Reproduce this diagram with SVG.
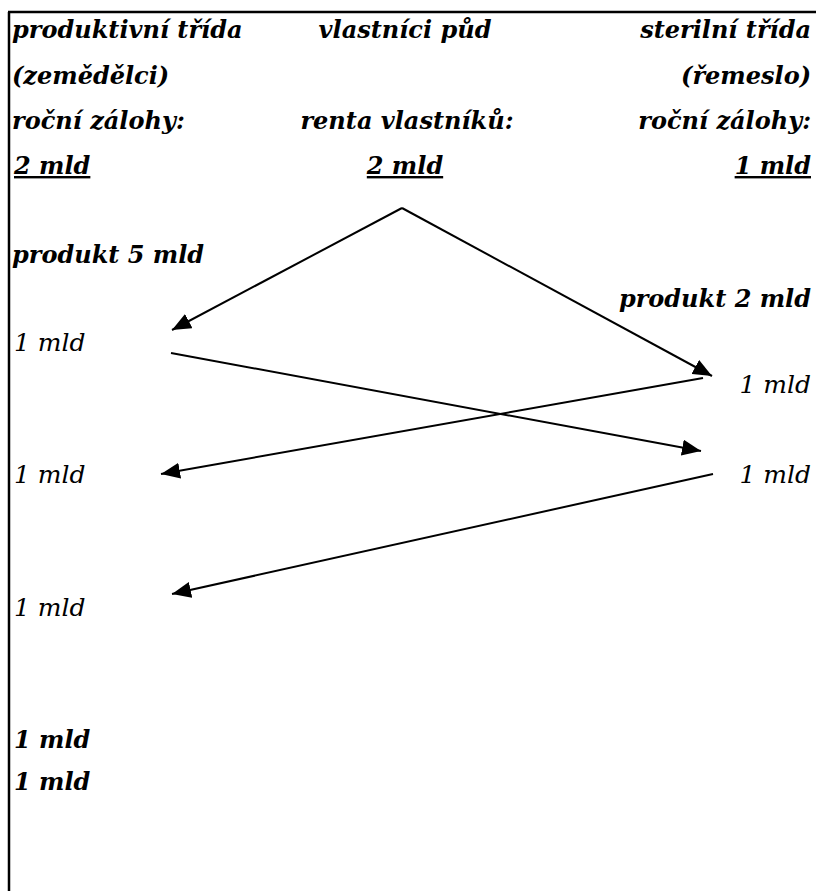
<svg xmlns="http://www.w3.org/2000/svg" width="816" height="891" viewBox="0 0 816 891">
<defs>
<marker id="ah" markerUnits="userSpaceOnUse" markerWidth="20" markerHeight="16" refX="19" refY="8" orient="auto">
<path d="M0,0 L19,8 L0,16 Z" fill="#000"/>
</marker>
</defs>
<rect width="816" height="891" fill="#fff"/>
<g id="frame" stroke="#000" stroke-width="2.5" fill="none">
<line x1="8" y1="12" x2="816" y2="12"/>
<line x1="9" y1="12" x2="9" y2="891"/>
</g>
<g id="productive" font-family="DejaVu Serif" font-size="24" font-style="italic" font-weight="bold">
<text x="12" y="38">produktivní třída</text>
<text x="12" y="84">(zemědělci)</text>
<text x="12" y="129">roční zálohy:</text>
<text x="14" y="174" text-decoration="underline">2 mld</text>
</g>
<g id="owners" font-family="DejaVu Serif" font-size="24" font-style="italic" font-weight="bold" text-anchor="middle">
<text x="405" y="38">vlastníci půd</text>
<text x="407" y="129">renta vlastníků:</text>
<text x="405" y="174" text-decoration="underline">2 mld</text>
</g>
<g id="sterile" font-family="DejaVu Serif" font-size="24" font-style="italic" font-weight="bold" text-anchor="end">
<text x="811" y="38">sterilní třída</text>
<text x="811" y="84">(řemeslo)</text>
<text x="811" y="129">roční zálohy:</text>
<text x="811" y="174" text-decoration="underline">1 mld</text>
</g>
<g id="product5" font-family="DejaVu Serif" font-size="24" font-style="italic" font-weight="bold">
<text x="12" y="263">produkt 5 mld</text>
</g>
<g id="product2" font-family="DejaVu Serif" font-size="24" font-style="italic" font-weight="bold" text-anchor="end">
<text x="811" y="307">produkt 2 mld</text>
</g>
<g id="left1"><text x="14" y="351" font-family="DejaVu Serif" font-size="25" font-style="italic">1 mld</text></g>
<g id="left2"><text x="14" y="483" font-family="DejaVu Serif" font-size="25" font-style="italic">1 mld</text></g>
<g id="left3"><text x="14" y="616" font-family="DejaVu Serif" font-size="25" font-style="italic">1 mld</text></g>
<g id="right1"><text x="811" y="393" font-family="DejaVu Serif" font-size="25" font-style="italic" text-anchor="end">1 mld</text></g>
<g id="right2"><text x="811" y="483" font-family="DejaVu Serif" font-size="25" font-style="italic" text-anchor="end">1 mld</text></g>
<g id="total1"><text x="14" y="748" font-family="DejaVu Serif" font-size="24" font-style="italic" font-weight="bold">1 mld</text></g>
<g id="total2"><text x="14" y="790" font-family="DejaVu Serif" font-size="24" font-style="italic" font-weight="bold">1 mld</text></g>
<g id="connectors" stroke="#000" stroke-width="2" fill="none">
<line x1="402" y1="208" x2="172" y2="330" marker-end="url(#ah)"/>
<line x1="402" y1="208" x2="712" y2="376" marker-end="url(#ah)"/>
<line x1="171" y1="353" x2="701" y2="451" marker-end="url(#ah)"/>
<line x1="703" y1="378" x2="161" y2="474" marker-end="url(#ah)"/>
<line x1="713" y1="474" x2="172" y2="594" marker-end="url(#ah)"/>
</g>
</svg>
